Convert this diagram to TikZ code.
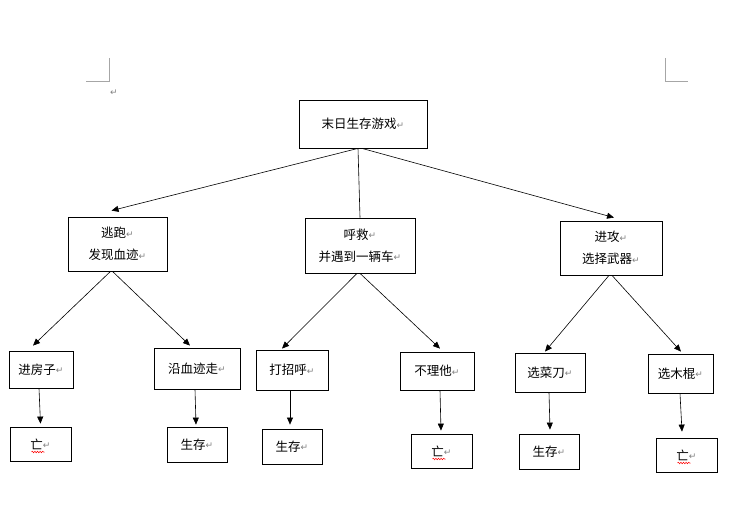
\documentclass[tikz,border=0pt]{standalone}
\usepackage{fontspec}
\usepackage{xcolor}
\usetikzlibrary{arrows.meta, decorations.pathmorphing}
\setmainfont{Noto Sans CJK SC}
\newfontfamily\symfont{DejaVu Sans}
\newcommand{\ret}{{\symfont\fontsize{9}{9}\selectfont\raisebox{0.5pt}{\textcolor{gray}{↵}}}}

\begin{document}
\begin{tikzpicture}[x=1pt, y=-1pt,
  box/.style={draw, line width=0.8pt, inner sep=0pt, align=center,
    font=\fontsize{12.5}{22}\selectfont},
  link/.style={line width=0.6pt},
  arr/.style={line width=0.6pt, -{Triangle[length=7pt,width=6pt]}},
  wavy/.style={red, line width=0.5pt, decorate,
    decoration={snake, amplitude=0.8pt, segment length=2.6pt}},
  corner/.style={gray!70, line width=0.7pt}]
\useasboundingbox (0,0) rectangle (739,526);
% page corner marks
\draw[corner] (109,58) -- (109,81) -- (86,81);
\draw[corner] (665,58) -- (665,81) -- (688,81);
\node at (114,93) {\ret};
% top
\node[box, minimum width=128, minimum height=48] (root) at (363,124) {末日生存游戏\ret};
% level 2
\node[box, minimum width=99, minimum height=54] (run) at (117.5,244) {逃跑\ret\\发现血迹\ret};
\node[box, minimum width=110, minimum height=55] (help) at (360,245.5) {呼救\ret\\并遇到一辆车\ret};
\node[box, minimum width=102, minimum height=54] (attack) at (611,248) {进攻\ret\\选择武器\ret};
% level 3
\node[box, minimum width=64, minimum height=37] (house) at (41,369.5) {进房子\ret};
\node[box, minimum width=86, minimum height=41] (trail) at (197,368.5) {沿血迹走\ret};
\node[box, minimum width=72, minimum height=40] (greet) at (292,370) {打招呼\ret};
\node[box, minimum width=74, minimum height=38] (ignore) at (437,371) {不理他\ret};
\node[box, minimum width=70, minimum height=39] (knife) at (550,372.5) {选菜刀\ret};
\node[box, minimum width=65, minimum height=39] (stick) at (680.5,373.5) {选木棍\ret};
% level 4
\node[box, minimum width=61, minimum height=34] (end1) at (40.5,444) {亡\ret};
\node[box, minimum width=60, minimum height=35] (end2) at (197,444.5) {生存\ret};
\node[box, minimum width=60, minimum height=35] (end3) at (292,446.5) {生存\ret};
\node[box, minimum width=61, minimum height=34] (end4) at (441.5,451) {亡\ret};
\node[box, minimum width=60, minimum height=35] (end5) at (549,451.5) {生存\ret};
\node[box, minimum width=61, minimum height=34] (end6) at (686.5,455) {亡\ret};
% red wavy marks
\foreach \n in {end1,end4,end6}
  \draw[wavy] ([shift={(-9pt,-8pt)}]\n.center) -- ++(13pt,0pt);
% connectors
\draw[arr] ([xshift=-5pt]root.south) -- ([shift={(-6pt,6pt)}]run.north);
\draw[link] ([xshift=-5pt]root.south) -- (help.north);
\draw[arr] ([xshift=-1pt]root.south) -- ([shift={(3pt,3pt)}]attack.north);
\draw[arr] ([xshift=-7pt]run.south) -- ([shift={(-8pt,5pt)}]house.north);
\draw[arr] ([xshift=-5pt]run.south) -- ([shift={(-7pt,2pt)}]trail.north);
\draw[arr] ([xshift=-3pt]help.south) -- ([shift={(-10pt,1pt)}]greet.north);
\draw[arr] (help.south) -- ([shift={(3pt,3pt)}]ignore.north);
\draw[arr] ([xshift=-2pt]attack.south) -- ([shift={(-5pt,1pt)}]knife.north);
\draw[arr] ([xshift=1pt]attack.south) -- ([shift={(0.5pt,2pt)}]stick.north);
\draw[arr] ([xshift=-2pt]house.south) -- ([shift={(0pt,3pt)}]end1.north);
\draw[arr] ([xshift=-2pt]trail.south) -- ([shift={(-1pt,2pt)}]end2.north);
\draw[arr] ([xshift=-2pt]greet.south) -- ([shift={(-2pt,4pt)}]end3.north);
\draw[arr] ([xshift=3pt]ignore.south) -- ([shift={(-0.5pt,3pt)}]end4.north);
\draw[arr] ([xshift=-1pt]knife.south) -- ([shift={(1pt,4pt)}]end5.north);
\draw[arr] ([xshift=-0.5pt]stick.south) -- ([shift={(-4.5pt,6pt)}]end6.north);
\end{tikzpicture}
\end{document}
